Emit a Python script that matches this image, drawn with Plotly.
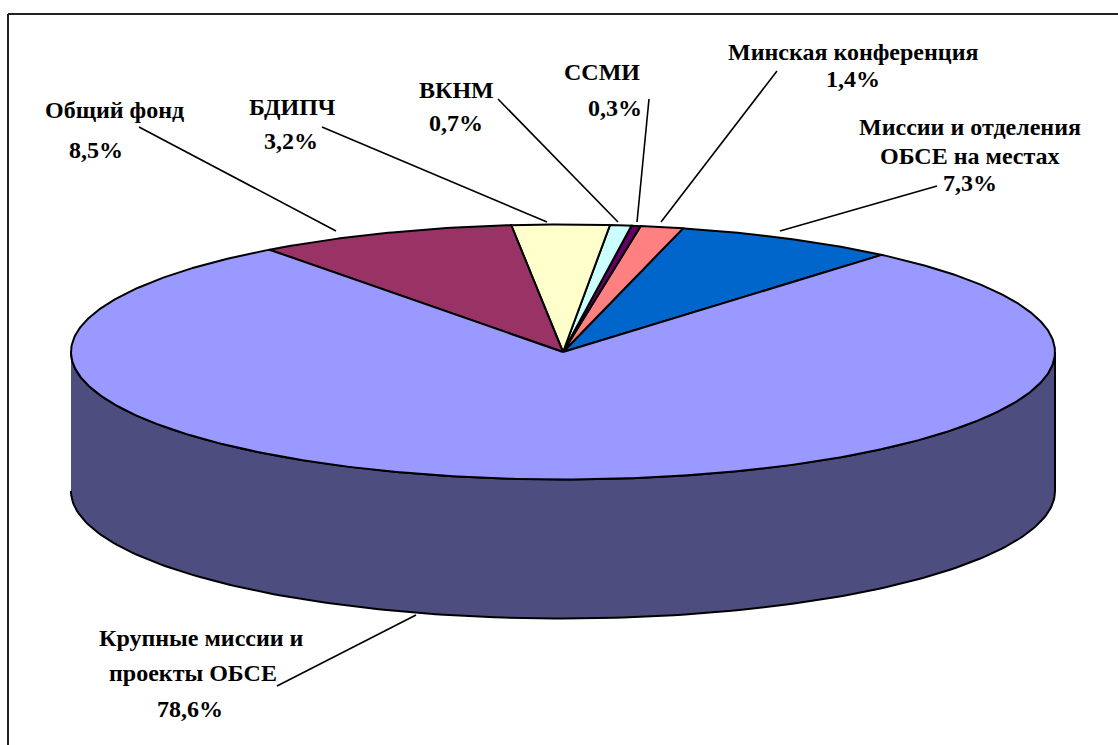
import numpy as np
import plotly.graph_objects as go

# Data
categories = ["Миссии и отделения ОБСЕ на местах", "Минская конференция", "ССМИ", "ВКНМ",
              "БДИПЧ", "Общий фонд", "Крупные миссии и проекты ОБСЕ"]
shares = [7.3, 1.4, 0.3, 0.7, 3.2, 8.5, 78.6]
colors = ["#0066CC", "#FF8080", "#660066", "#CCFFFF", "#FFFFCC", "#993366", "#9999FF"]
side_color = "#4D4D80"

# Pie geometry (in plot units = page pixels)
CX, CY, RX, RY, DEPTH = 563, 352, 492, 127.5, 139
START_DEG = 49.6

# label text lines: (text, x, y)
label_lines = [
    ("Общий фонд", 114, 110), ("8,5%", 96, 150),
    ("БДИПЧ", 292, 107), ("3,2%", 291, 141),
    ("ВКНМ", 456, 90), ("0,7%", 456, 123),
    ("ССМИ", 602, 72), ("0,3%", 615, 108),
    ("Минская конференция", 853, 52), ("1,4%", 853, 79),
    ("Миссии и отделения", 970, 127), ("ОБСЕ на местах", 970, 156), ("7,3%", 970, 183),
    ("Крупные миссии и", 201, 638), ("проекты ОБСЕ", 193, 673), ("78,6%", 190, 709),
]
leaders = [
    (139, 127, 336, 231), (322, 127, 547, 222), (498, 99, 618, 222),
    (649, 99, 637, 222), (777, 71, 661, 222), (937, 186, 780, 231), (277, 686, 416, 615),
]

def ell(deg):
    t = np.radians(deg)
    return CX + RX * np.cos(t), CY - RY * np.sin(t)

fig = go.Figure()

# side wall: front half of the ellipse extruded downward
t = np.linspace(180, 360, 181)
xs, ys = ell(t)
fig.add_trace(go.Scatter(
    x=np.r_[xs, xs[::-1]], y=np.r_[ys, ys[::-1] + DEPTH],
    mode="lines", fill="toself", fillcolor=side_color,
    line=dict(color="black", width=2), hoverinfo="skip", showlegend=False))

# top face slices
edges = START_DEG + np.r_[0, np.cumsum(shares)] * 3.6
for i, name in enumerate(categories):
    t = np.linspace(edges[i], edges[i + 1], max(3, int((edges[i + 1] - edges[i]) * 2)))
    xs, ys = ell(t)
    fig.add_trace(go.Scatter(
        x=np.r_[CX, xs, CX], y=np.r_[CY, ys, CY],
        mode="lines", fill="toself", fillcolor=colors[i], name=name,
        line=dict(color="black", width=2), hoverinfo="name", showlegend=False))

for x0, y0, x1, y1 in leaders:
    fig.add_trace(go.Scatter(x=[x0, x1], y=[y0, y1], mode="lines",
                             line=dict(color="black", width=1.6),
                             hoverinfo="skip", showlegend=False))

for text, x, y in label_lines:
    fig.add_annotation(x=x, y=y, text=f"<b>{text}</b>", showarrow=False,
                       xanchor="center", yanchor="middle",
                       font=dict(family="Liberation Serif", size=24, color="black"))

# chart frame (only top and left edges are inside the crop)
for x0, y0, x1, y1 in [(8, 14, 1118, 14), (8, 14, 8, 745)]:
    fig.add_shape(type="line", x0=x0, y0=y0, x1=x1, y1=y1,
                  line=dict(color="#222222", width=2))

fig.update_layout(
    width=1118, height=745, margin=dict(l=0, r=0, t=0, b=0),
    paper_bgcolor="white", plot_bgcolor="white", showlegend=False,
    xaxis=dict(range=[0, 1118], visible=False, fixedrange=True),
    yaxis=dict(range=[745, 0], visible=False, fixedrange=True),
)
fig.write_html("out.html", config={"displayModeBar": False},
               post_script="document.body.style.margin='0';document.documentElement.style.overflow='hidden';")
